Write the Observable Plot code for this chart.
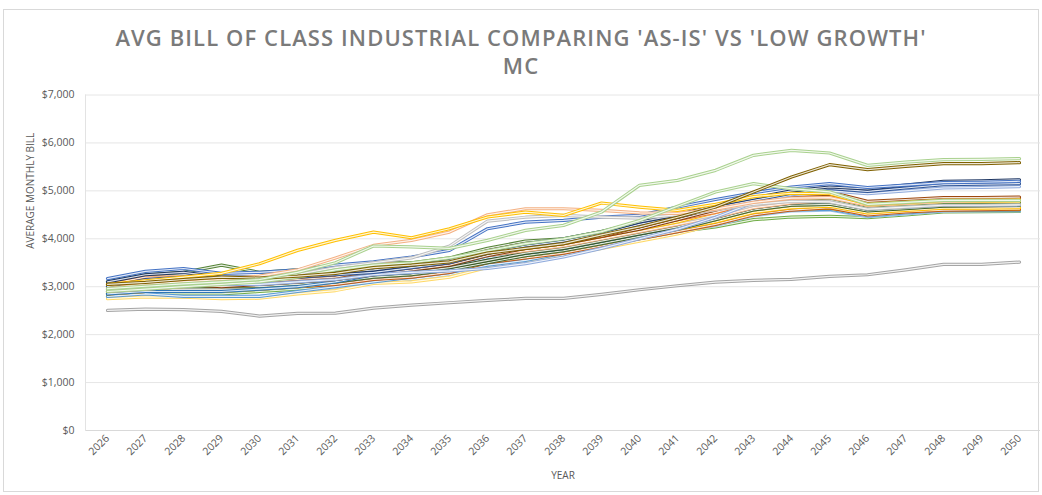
<!DOCTYPE html>
<html><head><meta charset="utf-8">
<script src="https://cdn.jsdelivr.net/npm/d3@7"></script>
<script src="https://cdn.jsdelivr.net/npm/@observablehq/plot@0.6"></script>
<style>
body{margin:0;background:#fff;}
#wrap{position:relative;width:1042px;height:495px;overflow:hidden;font-family:"Open Sans",sans-serif;}
#frame{position:absolute;left:3px;top:9px;width:1036px;height:483px;border:1px solid #d9d9d9;box-sizing:border-box;}
#title{position:absolute;top:23px;left:0px;width:1042px;text-align:center;font-weight:600;font-size:22px;color:#7a7a7a;line-height:28px;letter-spacing:1.1px;}
#chart{position:absolute;top:80px;left:0;}
</style></head>
<body>
<div id="wrap">
<div id="frame"></div>
<div id="title">AVG BILL OF CLASS INDUSTRIAL COMPARING 'AS-IS' VS 'LOW GROWTH'<br>MC</div>
<div id="chart"></div>
</div>
<script>
const years = [2026,2027,2028,2029,2030,2031,2032,2033,2034,2035,2036,2037,2038,2039,2040,2041,2042,2043,2044,2045,2046,2047,2048,2049,2050];
const yTicks = [0,1000,2000,3000,4000,5000,6000,7000];

// cluster series
const brown1    = [3000,3100,3150,3100,3100,3150,3200,3350,3400,3500,3700,3850,3950,4050,4250,4450,4650,4850,4950,4980,4780,4820,4860,4860,4870];
const brown2    = [2950,3000,3050,3000,3050,3100,3150,3250,3350,3450,3650,3800,3900,4050,4200,4400,4600,4800,4900,4930,4750,4790,4830,4840,4850];
const orange1   = [3050,3200,3200,3150,3150,3200,3300,3500,3450,3550,3750,3900,3950,4100,4250,4400,4550,4750,4850,4880,4720,4770,4810,4820,4830];
const orange2   = [2850,2900,2950,2950,2950,3000,3050,3150,3200,3300,3500,3600,3700,3850,4000,4150,4300,4500,4600,4650,4500,4560,4600,4610,4620];
const green1    = [2800,2850,2850,2850,2900,2950,3000,3100,3150,3250,3450,3550,3650,3850,4000,4150,4250,4400,4454,4470,4440,4500,4560,4565,4570];
const dgreen1   = [3100,3250,3300,3450,3300,3350,3400,3500,3500,3600,3800,3950,4000,4150,4300,4450,4600,4750,4820,4850,4680,4720,4760,4760,4760];
const dgreen2   = [2900,3000,3050,3050,3050,3100,3150,3250,3300,3400,3550,3700,3800,3950,4100,4250,4450,4650,4750,4780,4620,4670,4710,4720,4730];
const dgreen3   = [2850,2950,3000,3000,3000,3050,3100,3200,3250,3350,3500,3650,3750,3900,4050,4200,4400,4600,4700,4720,4580,4630,4680,4690,4700];
const lblue1    = [2800,2850,2800,2800,2800,2900,3000,3100,3200,3300,3450,3550,3700,3850,4000,4150,4300,4500,4600,4620,4480,4540,4590,4590,4590];
const lblue2    = [2780,2820,2790,2790,2800,2880,2980,3080,3150,3250,3420,3520,3650,3820,3980,4120,4280,4480,4580,4600,4460,4520,4575,4580,4580];
const grey1     = [2900,2950,2950,2950,2950,3000,3100,3200,3250,3350,3550,3650,3750,3900,4050,4200,4400,4600,4700,4720,4600,4640,4680,4680,4690];
const grey2     = [3000,3050,3100,3100,3150,3200,3300,3400,3450,3550,3700,3800,3900,4050,4200,4350,4500,4700,4800,4820,4650,4700,4740,4740,4750];
const gold2     = [2900,2980,3000,3000,3000,3050,3150,3300,3350,3450,3600,3700,3800,3950,4100,4250,4400,4550,4620,4640,4520,4570,4610,4610,4610];
const yellowLow = [2750,2790,2780,2750,2760,2850,2920,3070,3100,3200,3400,3500,3650,3800,3950,4100,4300,4500,4620,4640,4500,4560,4610,4620,4630];
const salmon    = [2950,3000,3050,3050,3100,3150,3250,3400,3450,3550,3750,3850,3950,4100,4250,4400,4550,4750,4850,4870,4700,4740,4780,4790,4800];
const blueMid   = [2850,2900,2900,2900,2950,3000,3100,3250,3300,3400,3600,3700,3800,3950,4100,4250,4450,4650,4750,4780,4620,4660,4700,4700,4710];
const lorange   = [2900,2950,3000,3100,3050,3100,3200,3350,3400,3500,3650,3750,3850,4000,4150,4300,4450,4650,4750,4800,4650,4690,4730,4730,4740];
const goldMid   = [3000,3050,3100,3150,3100,3150,3250,3400,3450,3550,3700,3800,3900,4050,4200,4350,4550,4750,4850,4900,4700,4740,4780,4780,4790];
const yellowMid = [2850,2900,2900,2900,2950,3000,3100,3250,3300,3400,3550,3650,3750,3900,4050,4200,4350,4550,4650,4680,4540,4590,4640,4640,4650];
// blue upper group
const navy      = [3100,3250,3300,3200,3200,3250,3300,3350,3450,3550,3750,3900,4000,4150,4350,4500,4700,4850,5000,5080,5040,5120,5200,5210,5230];
const blue2     = [3000,3150,3200,3150,3150,3200,3250,3300,3400,3500,3700,3850,3950,4100,4300,4450,4650,4800,4950,5050,4990,5060,5130,5140,5150];
const blue3     = [2950,3050,3100,3050,3050,3100,3150,3250,3300,3330,3380,3480,3620,3800,4000,4200,4450,4750,4920,5000,4940,5000,5060,5070,5090];
const blueHi    = [3170,3320,3380,3280,3300,3350,3450,3520,3620,3758,4210,4349,4384,4453,4488,4662,4820,4960,5080,5150,5070,5120,5170,5180,5200];
// distinct lines
const greyHi    = [2950,3000,3060,3100,3160,3260,3400,3500,3600,3850,4370,4450,4488,4453,4430,4500,4600,4720,4780,4770,4620,4660,4700,4700,4710];
const orangeTop = [2960,3060,3100,3150,3220,3350,3600,3862,3967,4140,4500,4627,4627,4593,4540,4530,4620,4760,4850,4860,4700,4750,4800,4800,4810];
const goldTop   = [3050,3120,3200,3280,3480,3758,3967,4140,4022,4210,4454,4558,4488,4746,4662,4593,4720,4880,4950,4940,4720,4760,4800,4800,4810];
const green2    = [2900,2950,3000,3050,3100,3200,3350,3450,3500,3600,3750,3900,4000,4150,4380,4680,4976,5150,5045,4980,4720,4760,4800,4800,4800];
const olive     = [3050,3090,3150,3200,3180,3220,3280,3400,3450,3520,3700,3800,3900,4080,4250,4450,4662,4976,5289,5546,5442,5511,5567,5567,5588];
const greenTop  = [2960,3010,3060,3100,3150,3300,3500,3850,3830,3800,3967,4175,4280,4557,5115,5219,5428,5741,5846,5790,5532,5601,5651,5655,5672];
const greyLow   = [2505,2532,2520,2484,2386,2442,2449,2554,2617,2666,2714,2756,2756,2840,2937,3020,3096,3131,3152,3215,3250,3350,3465,3465,3514];

const seriesList = [
  {v: green1, c: "#70AD47"}, {v: lblue2, c: "#9DC3E6"}, {v: yellowLow, c: "#FFD966"},
  {v: lblue1, c: "#5B9BD5"}, {v: gold2, c: "#BF9000"}, {v: orange2, c: "#C55A11"},
  {v: yellowMid, c: "#FFC000"}, {v: grey1, c: "#A5A5A5"}, {v: dgreen3, c: "#43682B"},
  {v: blueMid, c: "#2E75B6"}, {v: dgreen2, c: "#375623"}, {v: lorange, c: "#F4B183"},
  {v: grey2, c: "#C9C9C9"}, {v: dgreen1, c: "#548235"}, {v: goldMid, c: "#FFC000"},
  {v: salmon, c: "#F8CBAD"}, {v: orange1, c: "#ED7D31"}, {v: brown2, c: "#843C0C"},
  {v: brown1, c: "#9E480E"}, {v: blue3, c: "#8FAADC"}, {v: blue2, c: "#2F5597"},
  {v: navy, c: "#203864"}, {v: blueHi, c: "#4472C4"}, {v: greyHi, c: "#BFBFBF"},
  {v: orangeTop, c: "#F4B183"}, {v: goldTop, c: "#FFC000"}, {v: green2, c: "#A9D18E"},
  {v: olive, c: "#7F6000"}, {v: greenTop, c: "#A9D18E"}, {v: greyLow, c: "#A5A5A5"}
];

const rows = s => years.map((y, i) => ({year: y, value: s.v[i]}));

const lineMarks = seriesList.flatMap(s => [
  Plot.line(rows(s), {x: "year", y: "value", stroke: s.c, strokeWidth: 3.2}),
  Plot.line(rows(s), {x: "year", y: "value", stroke: "#ffffff", strokeWidth: 1.2, strokeOpacity: 0.85})
]);

const chart = Plot.plot({
  width: 1042,
  height: 415,
  marginLeft: 85,
  marginRight: 2,
  marginTop: 14.5,
  marginBottom: 65,
  style: {fontFamily: "'Open Sans', sans-serif", fontSize: "10.5px", color: "#595959", background: "transparent"},
  x: {type: "point", domain: years, padding: 0.5},
  y: {domain: [0, 7000], ticks: yTicks},
  marks: [
    Plot.gridY(yTicks, {stroke: "#e6e6e6", strokeOpacity: 1}),
    Plot.ruleY([0], {stroke: "#d9d9d9"}),
    Plot.frame({anchor: "left", stroke: "#e3e3e3"}),
    Plot.axisY(yTicks, {tickSize: 0, tickPadding: 11, tickFormat: d3.format("$,"), label: null, fill: "#595959"}),
    Plot.axisX(years, {tickSize: 0, tickPadding: 6, tickRotate: -45, tickFormat: d => String(d), label: null, fill: "#595959"}),
    ...lineMarks,
    Plot.text(["AVERAGE MONTHLY BILL"], {frameAnchor: "left", text: d => d, rotate: -90, dx: -55, dy: -14, fill: "#595959", fontSize: 10}),
    Plot.text(["YEAR"], {frameAnchor: "bottom", text: d => d, dy: 48, fill: "#595959", fontSize: 10})
  ]
});
document.getElementById("chart").appendChild(chart);
</script>
</body></html>
